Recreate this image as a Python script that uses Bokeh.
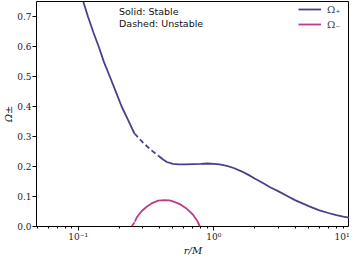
from bokeh.plotting import figure
from bokeh.models import Range1d, Label, Legend, LegendItem, CustomJSTickFormatter, FixedTicker, LogTicker
from bokeh.embed import file_html
from bokeh.resources import INLINE

# Omega_+
rp_stable1 = [0.109, 0.118, 0.130, 0.1416, 0.155, 0.171, 0.19, 0.209, 0.235, 0.26]
wp_stable1 = [0.75, 0.70, 0.645, 0.60, 0.548, 0.50, 0.448, 0.40, 0.352, 0.31]
rp_unstable = [0.26, 0.30, 0.34, 0.39]
wp_unstable = [0.31, 0.28, 0.257, 0.236]
rp_stable2 = [0.39, 0.42, 0.45, 0.50, 0.55, 0.62, 0.70, 0.80, 0.90, 1.0, 1.1, 1.25, 1.4, 1.6, 1.8,
              2.0, 2.3, 2.6, 3.0, 3.5, 4.0, 4.5, 5.0, 6.0, 7.0, 8.0, 9.0, 10.0]
wp_stable2 = [0.236, 0.224, 0.215, 0.209, 0.207, 0.207, 0.208, 0.209, 0.21, 0.209, 0.207, 0.202, 0.195, 0.184, 0.172,
              0.16, 0.145, 0.131, 0.117, 0.101, 0.087, 0.077, 0.068, 0.054, 0.045, 0.038, 0.033, 0.029]

# Omega_-
rm_unstable = [0.248, 0.255, 0.262]
wm_unstable = [0.0, 0.008, 0.016]
rm_stable = [0.262, 0.27, 0.293, 0.32, 0.347, 0.39, 0.433, 0.47, 0.50, 0.54, 0.575, 0.62, 0.66, 0.70, 0.75, 0.79]
wm_stable = [0.016, 0.03, 0.051, 0.066, 0.077, 0.086, 0.088, 0.087, 0.084, 0.078, 0.072, 0.062, 0.051, 0.04, 0.021, 0.0]

y_major = [0.0, 0.1, 0.2, 0.3, 0.4, 0.5, 0.6, 0.7]

c_plus = "#4a3f8f"
c_minus = "#c0398a"

p = figure(width=349, height=258, x_axis_type="log", output_backend="svg", toolbar_location=None,
           x_range=Range1d(0.0493, 10.0), y_range=Range1d(0.0, 0.75),
           min_border_left=20, min_border_right=0, min_border_top=1, min_border_bottom=0)
p.background_fill_color = "white"
p.border_fill_color = "white"
p.outline_line_color = "black"
p.outline_line_width = 1
p.grid.visible = False

lp1 = p.line(rp_stable1, wp_stable1, line_color=c_plus, line_width=1.8)
p.line(rp_unstable, wp_unstable, line_color=c_plus, line_width=1.8, line_dash="5 3")
p.line(rp_stable2, wp_stable2, line_color=c_plus, line_width=1.8)
lm1 = p.line(rm_stable, wm_stable, line_color=c_minus, line_width=1.8)
p.line(rm_unstable, wm_unstable, line_color=c_minus, line_width=1.8, line_dash="5 3")

serif = "DejaVu Serif"
for ax in (p.xaxis[0], p.yaxis[0]):
    ax.axis_line_color = None
    ax.major_tick_out = 4
    ax.major_tick_in = 0
    ax.minor_tick_out = 2
    ax.minor_tick_in = 0
    ax.major_label_text_font = serif
    ax.major_label_text_font_size = "9px"
    ax.major_label_text_color = "#222222"
    ax.major_label_text_line_height = 1.0
    ax.axis_label_text_font = serif
    ax.axis_label_text_font_size = "10px"
    ax.axis_label_text_line_height = 1.0
    ax.axis_label_text_color = "#111111"
    ax.major_label_standoff = 1
    ax.axis_label_standoff = 0

p.xaxis.ticker = LogTicker(desired_num_ticks=3, mantissas=[1])
p.xaxis.ticker.num_minor_ticks = 10
p.xaxis.formatter = CustomJSTickFormatter(code="""
const e = Math.round(Math.log10(tick));
const sup = {'-':'\u207b','0':'\u2070','1':'\u00b9','2':'\u00b2','3':'\u00b3'};
return '10' + String(e).split('').map(c => sup[c]).join('');
""")
p.xaxis.axis_label = "r/M"
p.xaxis.axis_label_text_font_style = "italic"
p.yaxis.ticker = FixedTicker(ticks=y_major)
p.yaxis.minor_tick_out = 0
p.yaxis.formatter = CustomJSTickFormatter(code="return tick.toFixed(1);")
p.yaxis.axis_label = "Ω±"

for i, t in enumerate(["Solid:  Stable", "Dashed:  Unstable"]):
    p.add_layout(Label(x=0.2, y=0.735 - i * 0.04, text=t, text_font="DejaVu Sans",
                       text_font_size="9.5px", text_baseline="top", text_align="left", text_color="#111111"))

legend = Legend(items=[LegendItem(label="Ω₊", renderers=[lp1]), LegendItem(label="Ω₋", renderers=[lm1])],
                location="top_right", border_line_color=None, background_fill_alpha=0,
                label_text_font=serif, label_text_font_size="10px", glyph_width=23, glyph_height=12,
                label_standoff=6, spacing=3, padding=3, margin=2, label_height=12)
p.add_layout(legend)

open("out.html", "w").write(file_html(p, INLINE))
